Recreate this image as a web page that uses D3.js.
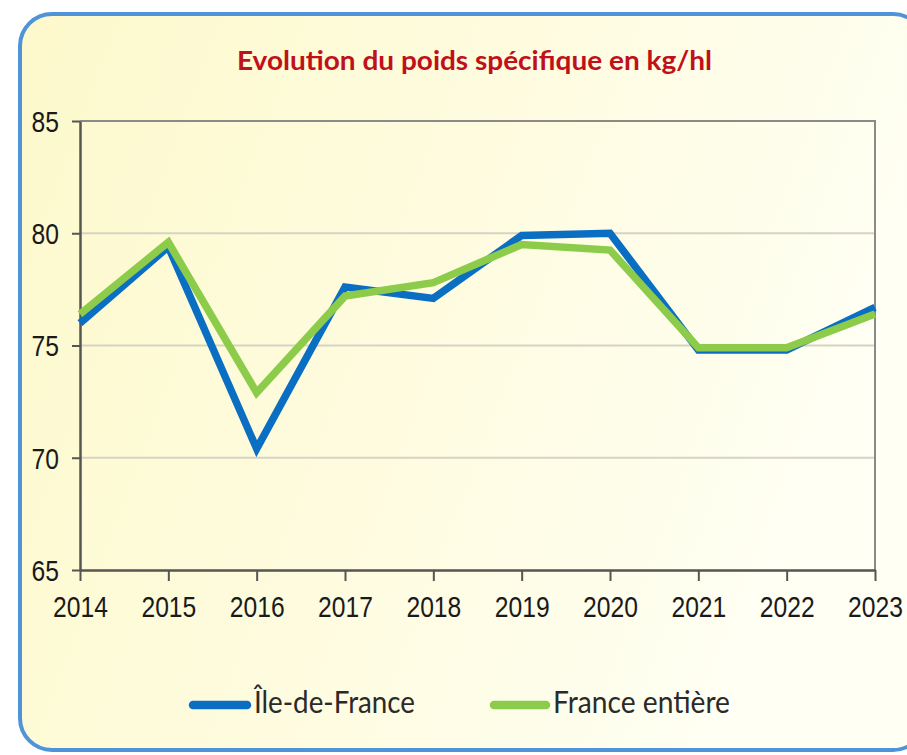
<!DOCTYPE html>
<html>
<head>
<meta charset="utf-8">
<script src="https://cdn.jsdelivr.net/npm/d3@7"></script>
<style>
  body { margin: 0; background: #fff; }
  svg { display: block; }
</style>
</head>
<body>
<div id="chart"></div>
<script>
// data
const years = [2014, 2015, 2016, 2017, 2018, 2019, 2020, 2021, 2022, 2023];
const ileDeFrance = [76.0, 79.4, 70.4, 77.6, 77.1, 79.9, 80.0, 74.8, 74.8, 76.7];
const franceEntiere = [76.4, 79.6, 72.9, 77.2, 77.8, 79.5, 79.25, 74.9, 74.9, 76.4];
const yTicks = [65, 70, 75, 80, 85];
const seriesNames = ["Île-de-France", "France entière"];
const seriesColors = ["#0a6fc2", "#8dcb4a"];

const svgWidth = 907;
const svgHeight = 755;

const margin = { top: 121, right: 32, bottom: 185, left: 80 };
const width = svgWidth - margin.left - margin.right;
const height = svgHeight - margin.top - margin.bottom;

// labels look a bit squeezed sideways
const squeeze = 0.85;

const svg = d3.select("#chart")
  .append("svg")
  .attr("width", svgWidth)
  .attr("height", svgHeight);

// background panel with rounded blue border
const defs = svg.append("defs");
const grad = defs.append("linearGradient")
  .attr("id", "bg")
  .attr("x1", "0").attr("y1", "0")
  .attr("x2", "1").attr("y2", "0.3");
grad.append("stop").attr("offset", "0").attr("stop-color", "#fdf9cc");
grad.append("stop").attr("offset", "0.6").attr("stop-color", "#fefce2");
grad.append("stop").attr("offset", "1").attr("stop-color", "#fffff4");

svg.append("rect")
  .attr("x", 20)
  .attr("y", 14)
  .attr("width", 905)
  .attr("height", 736)
  .attr("rx", 32)
  .attr("fill", "url(#bg)")
  .attr("stroke", "#4f93d8")
  .attr("stroke-width", 4);

// title
svg.append("text")
  .attr("x", 237)
  .attr("y", 70)
  .attr("textLength", 475)
  .attr("lengthAdjust", "spacingAndGlyphs")
  .attr("font-family", "Lato, 'Open Sans', sans-serif")
  .attr("font-weight", "bold")
  .attr("font-size", 26)
  .attr("fill", "#c0101a")
  .text("Evolution du poids spécifique en kg/hl");

const chartGroup = svg.append("g")
  .attr("transform", `translate(${margin.left}, ${margin.top})`);

// scales
const xScale = d3.scaleLinear()
  .domain(d3.extent(years))
  .range([0, width]);

const yScale = d3.scaleLinear()
  .domain([65, 85])
  .range([height, 0]);

// gridlines
chartGroup.selectAll(".grid")
  .data(yTicks.filter(d => d !== 65 && d !== 85))
  .enter()
  .append("line")
  .attr("x1", 0)
  .attr("x2", width)
  .attr("y1", d => yScale(d))
  .attr("y2", d => yScale(d))
  .attr("stroke", "#d6d3c4")
  .attr("stroke-width", 2);

// frame top and right
chartGroup.append("path")
  .attr("d", `M0,${yScale(85)}H${width}V${height}`)
  .attr("fill", "none")
  .attr("stroke", "#8a8a86")
  .attr("stroke-width", 2);

// axes
const bottomAxis = d3.axisBottom(xScale)
  .tickValues(years)
  .tickFormat(d3.format("d"))
  .tickSize(11)
  .tickSizeOuter(0)
  .tickPadding(15);
const leftAxis = d3.axisLeft(yScale)
  .tickValues(yTicks)
  .tickSize(8)
  .tickSizeOuter(0)
  .tickPadding(13);

const xAxisG = chartGroup.append("g")
  .attr("transform", `translate(0, ${height})`)
  .call(bottomAxis);
const yAxisG = chartGroup.append("g")
  .call(leftAxis);

[xAxisG, yAxisG].forEach(g => {
  g.select(".domain").attr("stroke", "#555552").attr("stroke-width", 2.5);
  g.selectAll(".tick line").attr("stroke", "#555552").attr("stroke-width", 2);
  g.selectAll(".tick text")
    .attr("font-family", "'Liberation Sans', Arial, sans-serif")
    .attr("font-size", 29)
    .attr("fill", "#1a1a1a")
    .attr("transform", `scale(${squeeze},1)`);
});
xAxisG.selectAll(".tick text").attr("dy", "0.71em");
yAxisG.selectAll(".tick text")
  .attr("dy", "0.36em")
  .attr("x", -21 / squeeze);

// lines
const series = [ileDeFrance, franceEntiere];
const line = d3.line()
  .x((d, i) => xScale(years[i]))
  .y(d => yScale(d));

chartGroup.selectAll(".series")
  .data(series)
  .enter()
  .append("path")
  .attr("d", d => line(d))
  .attr("fill", "none")
  .attr("stroke", (d, i) => seriesColors[i])
  .attr("stroke-width", 7.5)
  .attr("stroke-linejoin", "miter");

// legend
const legendItems = [
  { x: 189, w: 62, tx: 254, tl: 161 },
  { x: 490, w: 60, tx: 553, tl: 177 }
];
const legend = svg.append("g");
legend.selectAll("line")
  .data(legendItems)
  .enter()
  .append("line")
  .attr("x1", d => d.x + 4)
  .attr("x2", d => d.x + d.w - 4)
  .attr("y1", 705)
  .attr("y2", 705)
  .attr("stroke", (d, i) => seriesColors[i])
  .attr("stroke-width", 8.5)
  .attr("stroke-linecap", "round");
legend.selectAll("text")
  .data(legendItems)
  .enter()
  .append("text")
  .attr("x", d => d.tx)
  .attr("y", 713)
  .attr("textLength", d => d.tl)
  .attr("lengthAdjust", "spacingAndGlyphs")
  .attr("font-family", "Lato, 'Open Sans', sans-serif")
  .attr("font-size", 30)
  .attr("fill", "#2a2a2a")
  .text((d, i) => seriesNames[i]);
</script>
</body>
</html>
